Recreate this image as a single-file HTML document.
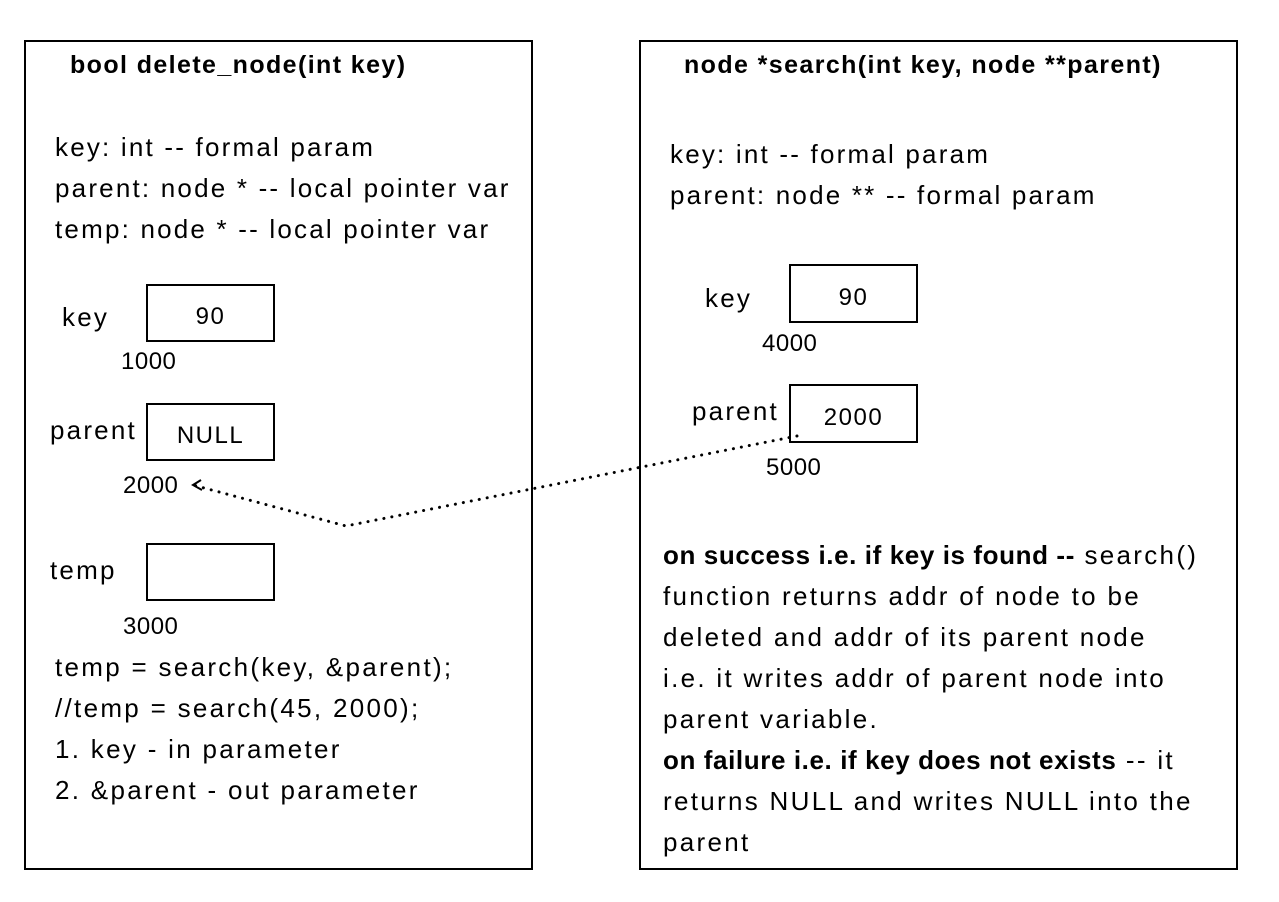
<!DOCTYPE html>
<html><head><meta charset="utf-8"><style>
body{margin:0;width:1279px;height:902px;background:#fff;position:relative;font-family:"Liberation Sans",sans-serif;color:#000;overflow:hidden}
.f{position:absolute;border:2.5px solid #000;box-sizing:border-box}
.t{position:absolute;font-size:26px;white-space:nowrap;line-height:1;letter-spacing:2.2px}
.b{font-weight:bold;letter-spacing:1.4px}
.bx{position:absolute;border:2.5px solid #000;box-sizing:border-box;display:flex;align-items:center;justify-content:center;font-size:24px;padding-top:8px;letter-spacing:1.5px}
.p{position:absolute;font-size:26px;line-height:41px;letter-spacing:2.3px;white-space:nowrap}
.p b{letter-spacing:0.6px}
</style></head><body>
<div class="f" style="left:24px;top:40px;width:509px;height:830px"></div>
<div class="f" style="left:639px;top:40px;width:599px;height:830px"></div>

<div class="t b" style="left:70px;top:53px;font-size:25px">bool delete_node(int key)</div>
<div class="t" style="left:55px;top:134px">key: int -- formal param</div>
<div class="t" style="left:55px;top:175px">parent: node * -- local pointer var</div>
<div class="t" style="left:55px;top:216px">temp: node * -- local pointer var</div>

<div class="t" style="left:62px;top:304px">key</div>
<div class="bx" style="left:146px;top:284px;width:129px;height:58px">90</div>
<div class="t" style="left:121px;top:350px;font-size:24px;letter-spacing:0.5px">1000</div>
<div class="t" style="left:50px;top:417px">parent</div>
<div class="bx" style="left:146px;top:403px;width:129px;height:58px">NULL</div>
<div class="t" style="left:123px;top:474px;font-size:24px;letter-spacing:0.5px">2000</div>
<div class="t" style="left:50px;top:557px">temp</div>
<div class="bx" style="left:146px;top:543px;width:129px;height:58px"></div>
<div class="t" style="left:123px;top:615px;font-size:24px;letter-spacing:0.5px">3000</div>
<div class="p" style="left:55px;top:647px">temp = search(key, &amp;parent);<br>//temp = search(45, 2000);<br>1. key - in parameter<br>2. &amp;parent - out parameter</div>

<div class="t b" style="left:684px;top:53px;font-size:25px">node *search(int key, node **parent)</div>
<div class="t" style="left:670px;top:141px">key: int -- formal param</div>
<div class="t" style="left:670px;top:182px">parent: node ** -- formal param</div>
<div class="t" style="left:705px;top:285px">key</div>
<div class="bx" style="left:789px;top:264px;width:129px;height:59px">90</div>
<div class="t" style="left:762px;top:332px;font-size:24px;letter-spacing:0.5px">4000</div>
<div class="t" style="left:692px;top:398px">parent</div>
<div class="bx" style="left:789px;top:384px;width:129px;height:59px">2000</div>
<div class="t" style="left:766px;top:456px;font-size:24px;letter-spacing:0.5px">5000</div>
<div class="p" style="left:663px;top:535px"><b>on success i.e. if key is found --</b> search()<br>function returns addr of node to be<br>deleted and addr of its parent node<br>i.e. it writes addr of parent node into<br>parent variable.<br><b>on failure i.e. if key does not exists</b> -- it<br>returns NULL and writes NULL into the<br>parent</div>

<svg style="position:absolute;left:0;top:0" width="1279" height="902">
<polyline points="797,436 346,526 193,485" fill="none" stroke="#000" stroke-width="3" stroke-dasharray="0.1 8" stroke-linecap="round"/>
<polyline points="201,480 193,485 202,490" fill="none" stroke="#000" stroke-width="2"/>
</svg>
</body></html>
